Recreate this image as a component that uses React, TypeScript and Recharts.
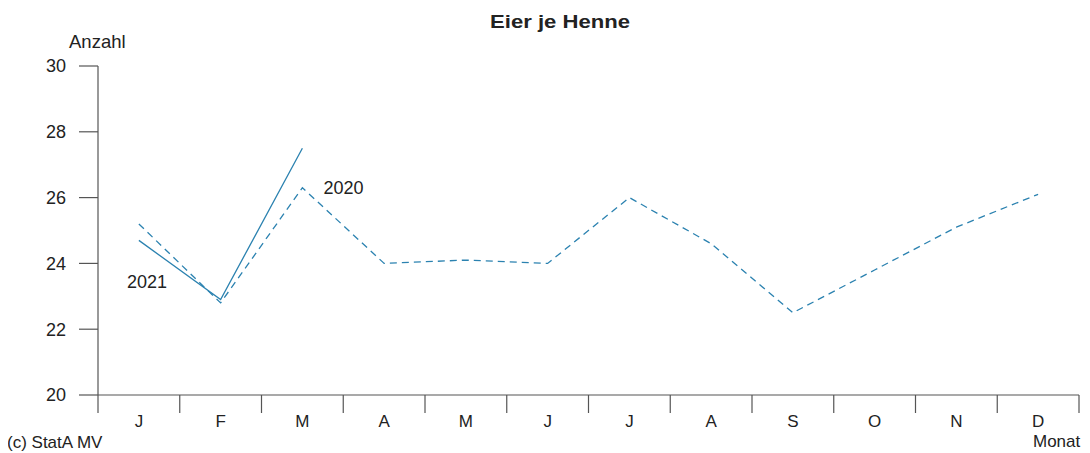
import { LineChart, Line, XAxis, YAxis, LabelList } from 'recharts';

const months = ['J', 'F', 'M', 'A', 'M', 'J', 'J', 'A', 'S', 'O', 'N', 'D'];
const eggs2020 = [25.2, 22.8, 26.3, 24.0, 24.1, 24.0, 26.0, 24.6, 22.5, 23.8, 25.1, 26.1];
const eggs2021 = [24.7, 22.9, 27.5];
const yTicks = [20, 22, 24, 26, 28, 30];

const data = months.map((m, i) => ({
  idx: i,
  month: m,
  y2020: eggs2020[i],
  y2021: i < eggs2021.length ? eggs2021[i] : null,
}));

const W = 1082;
const H = 445;
const MARGIN = { top: 58, right: 11, bottom: 18, left: 0 };
const Y_AXIS_W = 90;
const BAND = (W - MARGIN.left - MARGIN.right - Y_AXIS_W) / months.length;

const FONT = '"Liberation Sans", Arial, sans-serif';
const LINE = '#2b82b0';
const AXIS = '#555';
const TEXT = '#222';

function MonthTick({ x, y, payload, index }: any) {
  const half = BAND / 2;
  return (
    <g>
      <line x1={x - half} x2={x - half} y1={y - 18} y2={y} stroke={AXIS} strokeWidth={1.2} />
      {index === months.length - 1 && (
        <line x1={x + half} x2={x + half} y1={y - 18} y2={y} stroke={AXIS} strokeWidth={1.2} />
      )}
      <text x={x} y={y + 14} textAnchor="middle" fontSize={17} fill={TEXT} fontFamily={FONT}>
        {months[payload.value]}
      </text>
    </g>
  );
}

function SeriesLabel(name: string, at: number, dx: number, dy: number) {
  return ({ x, y, index }: any) =>
    index === at ? (
      <text x={x + dx} y={y + dy} fontSize={18} fill={TEXT} fontFamily={FONT} dominantBaseline="central">
        {name}
      </text>
    ) : null;
}

export default function App() {
  return (
    <div style={{ position: 'relative', width: W, height: H, fontFamily: FONT }}>
      <LineChart width={W} height={H} data={data} margin={MARGIN}>
        <XAxis
          dataKey="idx"
          type="category"
          padding={{ left: BAND / 2, right: BAND / 2 }}
          axisLine={{ stroke: AXIS, strokeWidth: 1.2 }}
          tickLine={false}
          tickSize={18}
          tickMargin={0}
          interval={0}
          height={40}
          tick={<MonthTick />}
        />
        <YAxis
          domain={[20, 30]}
          ticks={yTicks}
          width={Y_AXIS_W}
          axisLine={{ stroke: AXIS, strokeWidth: 1.2 }}
          tickLine={{ stroke: AXIS, strokeWidth: 1.2 }}
          tickSize={19}
          tickMargin={13}
          tick={{ fontSize: 18, fill: TEXT, fontFamily: FONT }}
        />
        <Line
          dataKey="y2020"
          stroke={LINE}
          strokeWidth={1.3}
          strokeDasharray="7 5"
          dot={false}
          isAnimationActive={false}
        >
          <LabelList dataKey="y2020" content={SeriesLabel('2020', 2, 21, 0)} />
        </Line>
        <Line
          dataKey="y2021"
          stroke={LINE}
          strokeWidth={1.3}
          dot={false}
          connectNulls={false}
          isAnimationActive={false}
        >
          <LabelList dataKey="y2021" content={SeriesLabel('2021', 0, -12, 42)} />
        </Line>
      </LineChart>
      <svg
        width={W}
        height={H}
        style={{ position: 'absolute', left: 0, top: 0, pointerEvents: 'none', overflow: 'visible' }}
      >
        <text
          x={552}
          y={20}
          textAnchor="middle"
          fontSize={18}
          fontWeight="bold"
          fill={TEXT}
          fontFamily={FONT}
          textLength={140}
          lengthAdjust="spacingAndGlyphs"
        >
          Eier je Henne
        </text>
        <text x={61} y={40} fontSize={18.5} fill={TEXT} fontFamily={FONT}>
          Anzahl
        </text>
        <text x={-1} y={440} fontSize={17} fill={TEXT} fontFamily={FONT}>
          (c) StatA MV
        </text>
        <text x={1025} y={439} fontSize={17} fill={TEXT} fontFamily={FONT}>
          Monat
        </text>
      </svg>
    </div>
  );
}
